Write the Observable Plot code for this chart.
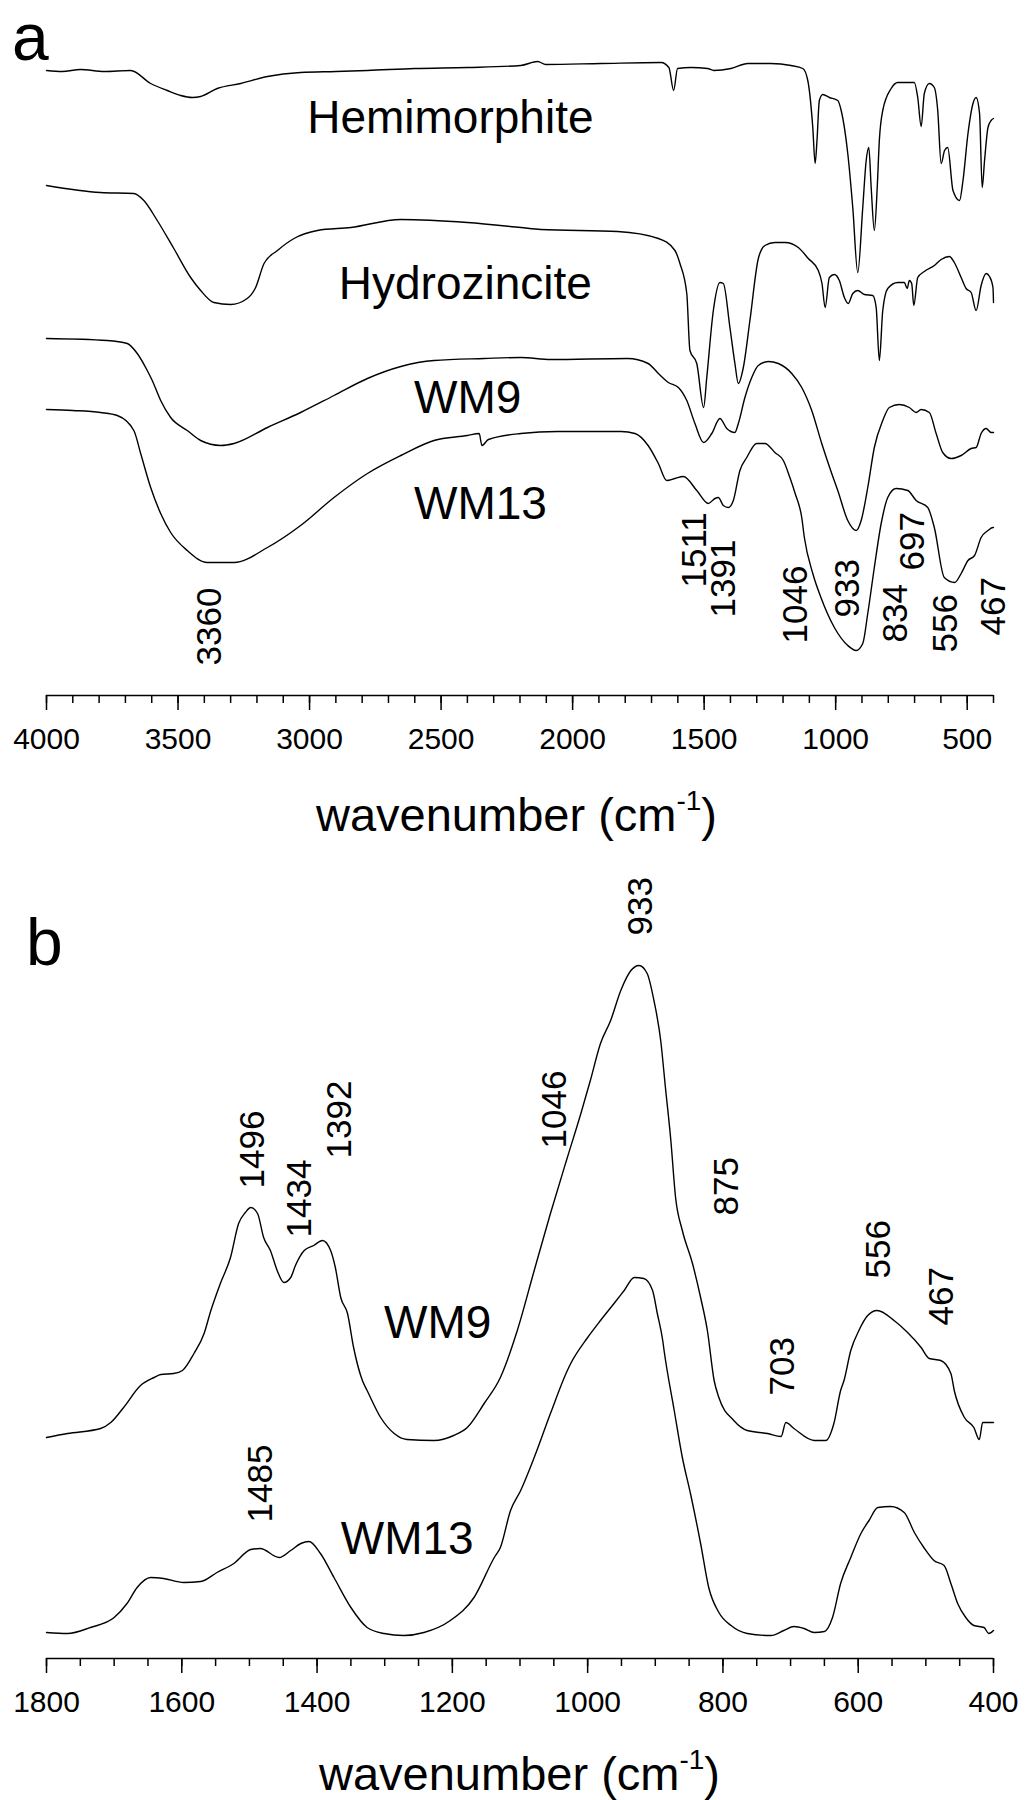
<!DOCTYPE html>
<html>
<head>
<meta charset="utf-8">
<script src="https://cdn.jsdelivr.net/npm/d3@7"></script>
<script src="https://cdn.jsdelivr.net/npm/@observablehq/plot@0.6"></script>
<style>
html, body { margin: 0; padding: 0; background: #fff; overflow: hidden; }
#wrap { position: relative; width: 1035px; height: 1800px; font-family: Arial, "Liberation Sans", sans-serif; color: #000; }
.lbl { position: absolute; line-height: 1; white-space: nowrap; }
.pl { line-height: 0.9; }
.sup { position: relative; top: -21px; font-size: 28px; }
</style>
</head>
<body>
<div id="wrap">
  <div id="pa" style="position:absolute;left:0;top:0"></div>
  <div id="pb" style="position:absolute;left:0;top:850px"></div>
  <div class="lbl pl" style="left:12px;top:8px;font-size:66px">a</div>
  <div class="lbl pl" style="left:26px;top:913px;font-size:66px">b</div>
  <div class="lbl" style="left:316px;top:791px;font-size:47px">wavenumber (cm<span class="sup">-1</span>)</div>
  <div class="lbl" style="left:319px;top:1750px;font-size:47px">wavenumber (cm<span class="sup">-1</span>)</div>
</div>
<script>
// ---------- Panel a: FTIR spectra, 4000-400 cm-1 (transmittance, offset, a.u.) ----------
const hemimorphiteWn = [4000,3940,3871,3780,3680,3604,3541,3490,3446,3414,3351,3262,3160,3034,2900,2780,2600,2400,2197,2133,2102,1892,1664,1634,1616,1601,1550,1487,1463,1398,1334,1246,1170,1125,1106,1087,1078,1071,1062,1049,1024,992,979,954,935,916,897,884,874,865,853,842,834,821,789,764,701,688,675,663,644,625,612,599,586,574,554,529,516,497,478,466,453,443,434,421,409,400];
const hemimorphiteT  = [625,624,626,624,625,612,605,600,598,599,607,612,619,623,624,625,627,628,630,634,631,632,633,628,605,627,628,627,625,627,632,632,630,627,615,568,532,555,595,601,598,595,585,542,488,423,488,535,548,508,465,508,555,585,607,613,613,598,569,602,612,608,585,532,545,548,505,495,515,562,592,598,582,508,535,568,575,577];

const hydrozinciteWn = [4000,3795,3668,3630,3579,3516,3452,3414,3364,3300,3237,3205,3173,3122,3059,2970,2843,2653,2400,2197,2121,1829,1674,1611,1592,1566,1554,1528,1502,1490,1465,1440,1427,1402,1383,1370,1351,1326,1294,1269,1231,1192,1142,1104,1066,1052,1040,1024,1005,986,967,952,935,916,891,859,846,834,821,802,764,739,728,720,711,703,688,663,625,599,568,549,523,504,485,466,447,428,415,402,400];
const hydrozinciteT  = [510,503,502,495,475,447,418,405,393,391,397,408,432,445,457,465,468,476,473,468,466,464,457,445,432,402,345,332,288,318,385,413,412,368,332,312,328,375,437,450,453,453,448,437,425,412,388,418,421,415,398,392,402,405,401,400,388,335,385,407,413,413,407,415,412,390,418,424,430,436,439,433,418,407,403,385,410,422,419,408,393];

const wm9aWn = [4000,3769,3693,3655,3617,3598,3566,3528,3465,3414,3338,3287,3160,3034,2907,2780,2653,2527,2336,2197,2083,1791,1713,1674,1636,1598,1566,1535,1502,1471,1440,1414,1383,1370,1345,1319,1294,1256,1218,1167,1129,1091,1053,1015,992,954,922,903,878,853,821,796,758,720,694,675,644,618,593,561,523,485,466,447,428,409,400];
const wm9aT  = [357,355,352,342,325,315,295,278,265,255,250,252,268,283,300,317,329,335,337,338,336,337,332,322,313,308,295,272,253,262,277,267,263,272,298,318,330,334,332,322,308,285,252,222,205,175,165,175,208,248,275,288,291,288,283,286,283,262,243,237,240,247,248,262,267,263,263];

const wm13aWn = [4000,3900,3795,3731,3668,3642,3604,3566,3528,3465,3389,3287,3160,3034,2907,2780,2653,2527,2400,2355,2345,2320,2197,2057,1816,1763,1713,1674,1642,1611,1579,1528,1484,1459,1446,1427,1408,1389,1364,1338,1300,1269,1231,1199,1174,1154,1129,1119,1087,1056,1005,954,922,897,878,853,827,802,770,726,694,650,625,587,548,523,497,472,447,421,402,400];
const wm13aT  = [286,285,283,280,265,242,208,182,163,145,133,133,148,170,198,222,240,255,260,262,250,256,262,264,264,262,250,232,215,217,219,205,192,197,198,190,188,195,225,238,252,252,243,235,218,202,178,158,122,98,68,50,45,52,82,128,172,198,207,205,195,188,168,118,113,122,135,140,158,165,168,168];

const seriesNamesA = ["Hemimorphite", "Hydrozincite", "WM9", "WM13"];
const seriesLabelWnA = [3009, 2889, 2603, 2603];
const seriesLabelTA  = [563, 397, 283, 177];

const peakTextA = ["3360","1511","1391","1046","933","834","697","556","467"];
const peakWnA   = [3380, 1535, 1426, 1152, 955, 771, 708, 581, 400];
const peakTA    = [30, 108, 78, 52, 78, 53, 125, 43, 60];

const majorTicksA = [4000,3500,3000,2500,2000,1500,1000,500];
const minorTicksA = d3.range(4000, 399, -100);

// ---------- Panel b: 1800-400 cm-1 (absorbance, offset, a.u.) ----------
const wm9bWn = [1800,1769,1720,1705,1686,1661,1641,1631,1612,1599,1582,1567,1557,1543,1528,1516,1506,1498,1488,1479,1469,1459,1449,1439,1432,1419,1405,1392,1380,1373,1365,1355,1346,1333,1326,1306,1286,1267,1227,1198,1178,1153,1129,1104,1079,1055,1030,1010,996,981,966,951,936,924,912,902,892,885,877,870,860,845,833,823,813,806,784,764,734,714,707,695,665,648,636,626,621,611,599,586,572,547,527,507,495,478,463,458,443,429,421,416,400];
const wm9bA  = [221,225,230,236,251,273,281,284,285,288,305,325,348,375,401,435,446,451,445,421,408,388,376,381,393,408,413,418,408,391,361,345,311,278,268,241,225,219,218,223,231,255,281,328,388,445,501,545,578,615,638,668,688,693,685,658,618,571,518,461,428,395,361,328,278,261,238,228,225,222,236,230,218,218,235,268,278,308,328,343,348,338,326,311,300,298,285,268,241,231,219,236,236];

const wm13bWn = [1800,1769,1735,1700,1681,1666,1646,1627,1597,1572,1548,1523,1498,1484,1456,1439,1424,1412,1395,1375,1350,1326,1301,1272,1242,1203,1168,1138,1129,1114,1099,1079,1055,1030,1025,1000,981,961,946,931,917,904,897,889,887,872,860,848,833,821,806,788,764,729,710,695,680,665,650,638,626,611,596,584,571,552,532,517,503,488,473,463,453,441,429,414,407,400];
const wm13bA  = [26,25,31,41,55,71,81,80,76,77,86,95,109,110,101,108,115,117,105,81,51,31,25,23,26,38,61,101,111,148,168,201,245,288,295,321,338,355,368,381,380,368,345,318,308,248,201,165,115,71,46,33,25,23,28,32,30,26,27,41,75,101,125,138,151,152,146,126,111,98,93,75,55,41,33,31,25,28];

const seriesNamesB = ["WM9", "WM13"];
const seriesLabelWnB = [1301, 1365];
const seriesLabelAB  = [321, 105];

const peakTextB = ["1496","1434","1392","1046","933","875","703","556","467","1485"];
const peakWnB   = [1495, 1426, 1366, 1049, 921, 794, 711, 569, 476, 1483];
const peakAB    = [470, 421, 500, 510, 723, 443, 263, 380, 333, 136];

const majorTicksB = [1800,1600,1400,1200,1000,800,600,400];
const minorTicksB = d3.range(1800, 399, -50);

// ---------- build tables ----------
function rows(name, xs, ys) { return xs.map((x, i) => ({series: name, x, y: ys[i]})); }
const dataA = [
  ...rows("Hemimorphite", hemimorphiteWn, hemimorphiteT),
  ...rows("Hydrozincite", hydrozinciteWn, hydrozinciteT),
  ...rows("WM9", wm9aWn, wm9aT),
  ...rows("WM13", wm13aWn, wm13aT)
];
const dataB = [
  ...rows("WM9", wm9bWn, wm9bA),
  ...rows("WM13", wm13bWn, wm13bA)
];
const labA = seriesNamesA.map((t, i) => ({t, x: seriesLabelWnA[i], y: seriesLabelTA[i]}));
const pkA = peakTextA.map((t, i) => ({t, x: peakWnA[i], y: peakTA[i]}));
const labB = seriesNamesB.map((t, i) => ({t, x: seriesLabelWnB[i], y: seriesLabelAB[i]}));
const pkB = peakTextB.map((t, i) => ({t, x: peakWnB[i], y: peakAB[i]}));

const font = 'Arial, "Liberation Sans", sans-serif';
function panel(data, lab, pk, xdom, ydom, major, minor, height, mt, mb) {
  return Plot.plot({
    width: 1035, height,
    marginLeft: 46, marginRight: 42, marginTop: mt, marginBottom: mb,
    style: {fontFamily: font, background: "white", color: "black", overflow: "visible"},
    x: {domain: xdom},
    y: {domain: ydom, axis: null},
    marks: [
      Plot.line(data, {x: "x", y: "y", z: "series", stroke: "black", strokeWidth: 1.4, curve: "monotone-x", strokeLinejoin: "round"}),
      Plot.ruleY([0], {stroke: "black", strokeWidth: 1.5}),
      Plot.axisX({ticks: minor, tickSize: 8, text: null, label: null, stroke: "black", strokeWidth: 1.5}),
      Plot.axisX({ticks: major, tickSize: 15, tickPadding: 17, fontSize: 30, tickFormat: "d", label: null, stroke: "black", strokeWidth: 1.5}),
      Plot.text(lab, {x: "x", y: "y", text: "t", textAnchor: "start", lineAnchor: "bottom", fontSize: 46, fill: "black"}),
      Plot.text(pk, {x: "x", y: "y", text: "t", rotate: -90, textAnchor: "start", lineAnchor: "middle", fontSize: 35, fill: "black"})
    ]
  });
}
document.getElementById("pa").append(panel(dataA, labA, pkA, [4000, 400], [0, 640], majorTicksA, minorTicksA, 850, 55, 155));
document.getElementById("pb").append(panel(dataB, labB, pkB, [1800, 400], [0, 800], majorTicksB, minorTicksB, 950, 8, 142));
</script>
</body>
</html>
